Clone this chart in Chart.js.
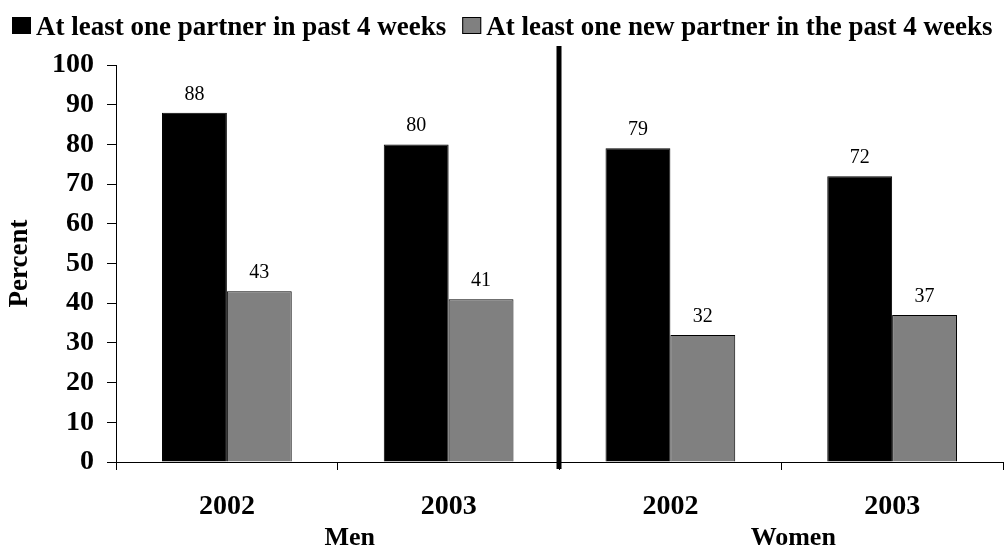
<!DOCTYPE html>
<html>
<head>
<meta charset="utf-8">
<script src="https://cdn.jsdelivr.net/npm/chart.js@4.4.0/dist/chart.umd.min.js"></script>
<style>
  html, body { margin: 0; padding: 0; background: #fff; }
  #wrap { width: 1005px; height: 546px; }
</style>
</head>
<body>
<div id="wrap"><canvas id="chart" width="1005" height="546"></canvas></div>
<script>
// data
const years = ["2002", "2003", "2002", "2003"];
const groups = ["Men", "Women"];
const anyPartner = [88, 80, 79, 72];
const newPartner = [43, 41, 32, 37];
const seriesNames = ["At least one partner in past 4 weeks", "At least one new partner in the past 4 weeks"];
const yTicks = [0, 10, 20, 30, 40, 50, 60, 70, 80, 90, 100];

const serif = "'Liberation Serif', 'Times New Roman', serif";

// legend drawn by hand, tight like the original
const legendPlugin = {
  id: "topLegend",
  afterDraw(chart) {
    const ctx = chart.ctx;
    ctx.save();
    ctx.font = "bold 27px " + serif;
    ctx.textBaseline = "alphabetic";
    let x = 12;
    chart.data.datasets.forEach(ds => {
      ctx.fillStyle = ds.backgroundColor;
      ctx.fillRect(x, 17, 19, 17);
      ctx.strokeStyle = "#000";
      ctx.lineWidth = 1;
      ctx.strokeRect(x + 0.5, 17.5, 18, 16);
      x += 24;
      ctx.fillStyle = "#000";
      ctx.fillText(ds.label, x, 35);
      x += ctx.measureText(ds.label).width + 16;
    });
    ctx.restore();
  }
};

// values above bars, group names, divider line
const extras = {
  id: "extras",
  afterDatasetsDraw(chart) {
    const ctx = chart.ctx;
    const xs = chart.scales.x;
    const area = chart.chartArea;
    ctx.save();
    ctx.font = "20px " + serif;
    ctx.fillStyle = "#000";
    ctx.textAlign = "center";
    ctx.textBaseline = "alphabetic";
    chart.data.datasets.forEach((ds, i) => {
      chart.getDatasetMeta(i).data.forEach((bar, j) => {
        ctx.fillText(String(ds.data[j]), bar.x, bar.y - 13);
      });
    });

    ctx.font = "bold 26px " + serif;
    groups.forEach((g, k) => {
      const cx = (xs.getPixelForValue(k * 2) + xs.getPixelForValue(k * 2 + 1)) / 2;
      ctx.fillText(g, cx + 12, area.bottom + 83);
    });

    const mid = (xs.getPixelForValue(1) + xs.getPixelForValue(2)) / 2;
    ctx.fillStyle = "#000";
    ctx.fillRect(mid - 3, 46, 5, area.bottom + 7 - 46);
    ctx.restore();
  }
};

new Chart(document.getElementById("chart"), {
  type: "bar",
  data: {
    labels: years,
    datasets: [
      { label: seriesNames[0], data: anyPartner, backgroundColor: "#000000", borderColor: "#000", borderWidth: 1 },
      { label: seriesNames[1], data: newPartner, backgroundColor: "#808080", borderColor: "#000", borderWidth: 1 }
    ]
  },
  options: {
    responsive: false,
    animation: false,
    layout: { padding: { top: 65, right: 2, left: 0, bottom: 0 } },
    plugins: {
      legend: { display: false },
      tooltip: { enabled: false }
    },
    datasets: {
      bar: { barPercentage: 1, categoryPercentage: 0.585 }
    },
    scales: {
      x: {
        grid: { display: true, offset: true, drawOnChartArea: false, tickLength: 8, color: "#000" },
        border: { color: "#000", width: 1 },
        ticks: { color: "#000", font: { family: serif, size: 28, weight: "bold" }, padding: 20 },
        afterFit(s) { s.height = 84; }
      },
      y: {
        min: 0,
        max: 100,
        afterBuildTicks(s) { s.ticks = yTicks.map(v => ({ value: v })); },
        grid: { display: true, drawOnChartArea: false, tickLength: 9, color: "#000" },
        border: { color: "#000", width: 1 },
        ticks: { color: "#000", font: { family: serif, size: 28, weight: "bold" }, padding: 13 },
        title: { display: true, text: "Percent", color: "#000", font: { family: serif, size: 27, weight: "bold" }, padding: { top: 4, bottom: 4 } },
        afterFit(s) { s.width = 116; }
      }
    }
  },
  plugins: [legendPlugin, extras]
});
</script>
</body>
</html>
